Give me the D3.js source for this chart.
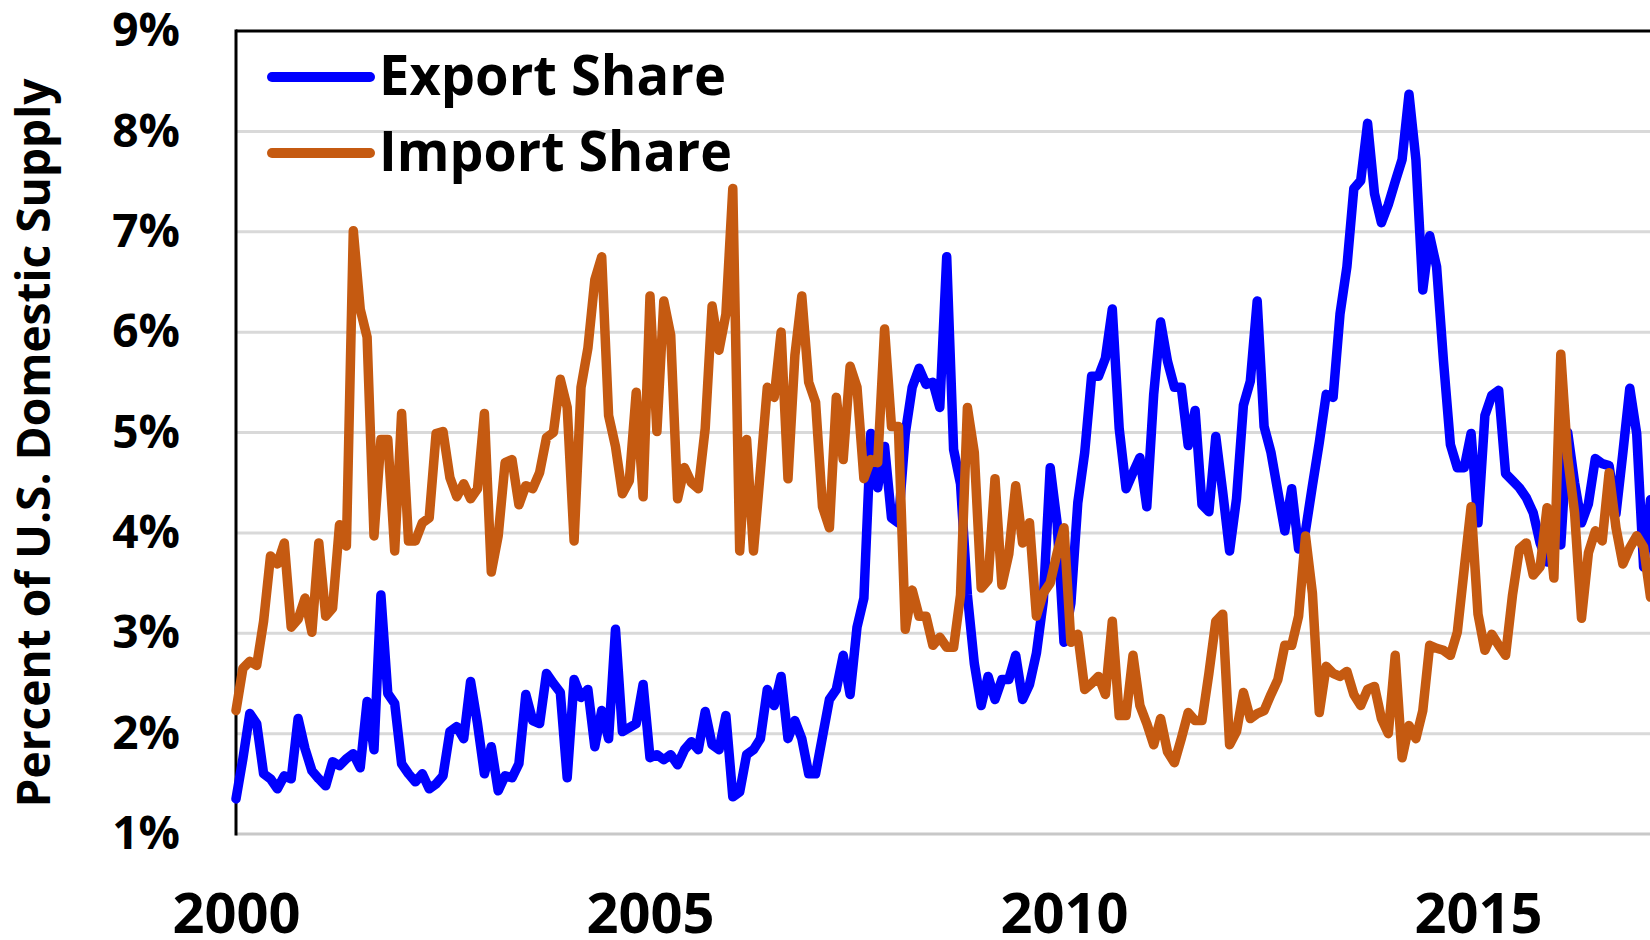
<!DOCTYPE html>
<html>
<head>
<meta charset="utf-8">
<script src="https://cdn.jsdelivr.net/npm/d3@7"></script>
<style>
  body { margin: 0; background: #fff; }
  svg { display: block; }
</style>
</head>
<body>
<div id="chart"></div>
<script>
// monthly shares, Jan 2000 onwards (percent of U.S. domestic supply)
const startYear = 2000;
const exportShare = [
  1.35, 1.75, 2.2, 2.1, 1.6, 1.55, 1.45, 1.58, 1.55, 2.15,
  1.85, 1.63, 1.55, 1.48, 1.72, 1.68, 1.75, 1.8, 1.66, 2.32,
  1.84, 3.38, 2.4, 2.3, 1.7, 1.6, 1.52, 1.6, 1.45, 1.5,
  1.58, 2.02, 2.07, 1.95, 2.52, 2.1, 1.6, 1.87, 1.43, 1.58,
  1.56, 1.7, 2.39, 2.13, 2.1, 2.6, 2.5, 2.41, 1.56, 2.54,
  2.36, 2.44, 1.87, 2.23, 1.95, 3.04, 2.02, 2.06, 2.1, 2.49,
  1.76, 1.79, 1.74, 1.79, 1.69, 1.84, 1.92, 1.84, 2.22, 1.89,
  1.84, 2.18, 1.37, 1.42, 1.79, 1.84, 1.95, 2.44, 2.28, 2.57,
  1.95, 2.13, 1.95, 1.6, 1.6, 1.97, 2.34, 2.44, 2.78, 2.39,
  3.06, 3.35, 4.99, 4.45, 4.86, 4.15, 4.1, 4.99, 5.45, 5.64,
  5.48, 5.5, 5.25, 6.75, 4.83, 4.49, 3.38, 2.7, 2.28, 2.57,
  2.34, 2.54, 2.54, 2.78, 2.34, 2.49, 2.8, 3.32, 4.65, 4.1,
  2.91, 3.3, 4.3, 4.8, 5.56, 5.56, 5.74, 6.23, 5.04, 4.44,
  4.6, 4.75, 4.26, 5.38, 6.1, 5.71, 5.45, 5.45, 4.87, 5.22,
  4.28, 4.21, 4.96, 4.41, 3.82, 4.34, 5.27, 5.51, 6.31, 5.06,
  4.8, 4.41, 4.02, 4.44, 3.84, 4.02, 4.47, 4.9, 5.38, 5.35,
  6.18, 6.65, 7.43, 7.51, 8.08, 7.38, 7.09, 7.27, 7.5, 7.72,
  8.37, 7.72, 6.42, 6.96, 6.65, 5.71, 4.88, 4.65, 4.65, 4.99,
  4.1, 5.17, 5.37, 5.42, 4.59, 4.52, 4.45, 4.35, 4.2, 3.9,
  3.71, 3.95, 3.88, 5.0, 4.5, 4.1, 4.29, 4.74, 4.69, 4.67,
  4.19, 4.8, 5.44, 4.99, 3.66, 4.33
];
const importShare = [
  2.23, 2.65, 2.72, 2.68, 3.12, 3.77, 3.69, 3.9, 3.06, 3.14,
  3.35, 3.01, 3.9, 3.17, 3.25, 4.08, 3.87, 7.01, 6.23, 5.95,
  3.97, 4.93, 4.93, 3.82, 5.19, 3.92, 3.92, 4.1, 4.15, 4.99,
  5.01, 4.55, 4.36, 4.49, 4.34, 4.44, 5.19, 3.61, 3.97, 4.7,
  4.73, 4.28, 4.47, 4.44, 4.6, 4.95, 5.0, 5.53, 5.25, 3.92,
  5.45, 5.84, 6.52, 6.75, 5.17, 4.86, 4.39, 4.52, 5.4, 4.36,
  6.36, 5.01, 6.31, 5.97, 4.34, 4.65, 4.5, 4.44, 5.04, 6.26,
  5.82, 6.18, 7.43, 3.82, 4.93, 3.82, 4.62, 5.45, 5.35, 6.0,
  4.54, 5.77, 6.36, 5.5, 5.3, 4.26, 4.05, 5.35, 4.73, 5.66,
  5.45, 4.54, 4.73, 4.7, 6.03, 5.06, 5.06, 3.04, 3.43, 3.17,
  3.17, 2.88, 2.96, 2.86, 2.86, 3.38, 5.25, 4.8, 3.45, 3.53,
  4.54, 3.48, 3.79, 4.47, 3.9, 4.1, 3.17, 3.4, 3.5, 3.8,
  4.05, 2.91, 2.99, 2.44, 2.5, 2.57, 2.39, 3.12, 2.18, 2.18,
  2.78, 2.28, 2.1, 1.89, 2.15, 1.82, 1.71, 1.95, 2.21, 2.13,
  2.13, 2.6, 3.12, 3.19, 1.89, 2.02, 2.41, 2.15, 2.2, 2.23,
  2.39, 2.54, 2.88, 2.88, 3.17, 3.97, 3.4, 2.21, 2.67, 2.6,
  2.57, 2.62, 2.39, 2.28, 2.44, 2.47, 2.15, 2.0, 2.78, 1.76,
  2.08, 1.95, 2.23, 2.88, 2.85, 2.83, 2.78, 3.01, 3.64, 4.26,
  3.19, 2.83, 2.99, 2.88, 2.78, 3.38, 3.84, 3.9, 3.58, 3.66,
  4.25, 3.55, 5.78, 4.75, 4.2, 3.15, 3.8, 4.02, 3.92, 4.6,
  4.05, 3.69, 3.85, 3.97, 3.86, 3.36
];
const yearTicks = [2000, 2005, 2010, 2015];
const pctTicks = [1, 2, 3, 4, 5, 6, 7, 8, 9];
const seriesNames = ["Export Share", "Import Share"];

const width = 1650;
const height = 940;
const margin = { top: 31, left: 236, bottom: 106 };
const plotBottom = height - margin.bottom;
const font = "'Open Sans', 'DejaVu Sans', sans-serif";
const colors = ["#0000ff", "#c55a11"];

const svg = d3.select("#chart").append("svg")
    .attr("width", width)
    .attr("height", height)
    .style("background", "#fff");

// month index -> px (the plot runs past the right edge of the picture)
const x = d3.scaleLinear()
    .domain([0, (2015 - startYear) * 12])
    .range([margin.left, 1478]);

const y = d3.scaleLinear()
    .domain([1, 9])
    .range([plotBottom, margin.top]);

// gridlines
svg.append("g")
    .selectAll("line")
    .data(pctTicks.filter(d => d > 1 && d < 9))
    .enter().append("line")
    .attr("x1", margin.left)
    .attr("x2", width)
    .attr("y1", d => y(d))
    .attr("y2", d => y(d))
    .attr("stroke", "#d9d9d9")
    .attr("stroke-width", 3);

// bottom line (gray), top + left border (black)
svg.append("line")
    .attr("x1", margin.left).attr("x2", width)
    .attr("y1", y(1)).attr("y2", y(1))
    .attr("stroke", "#c8c8c8").attr("stroke-width", 3);
svg.append("line")
    .attr("x1", margin.left).attr("x2", width)
    .attr("y1", y(9)).attr("y2", y(9))
    .attr("stroke", "#000").attr("stroke-width", 3);
svg.append("line")
    .attr("x1", margin.left).attr("x2", margin.left)
    .attr("y1", y(9) - 1.5).attr("y2", y(1) + 1.5)
    .attr("stroke", "#000").attr("stroke-width", 3);

// y axis labels
const yAxis = svg.append("g")
    .attr("transform", `translate(${margin.left},0)`)
    .call(d3.axisLeft(y).tickValues(pctTicks).tickFormat(d => d + "%").tickSize(0).tickPadding(56));
yAxis.select(".domain").remove();
yAxis.selectAll("text")
    .attr("font-family", font)
    .attr("font-weight", "bold")
    .attr("font-size", 46)
    .attr("fill", "#000");

// x axis labels
const xAxis = svg.append("g")
    .attr("transform", `translate(0,${plotBottom})`)
    .call(d3.axisBottom(x)
        .tickValues(yearTicks.map(yr => (yr - startYear) * 12))
        .tickFormat((d, i) => yearTicks[i])
        .tickSize(0)
        .tickPadding(59));
xAxis.select(".domain").remove();
xAxis.selectAll("text")
    .attr("font-family", font)
    .attr("font-weight", "bold")
    .attr("font-size", 56)
    .attr("fill", "#000");

// y axis title
svg.append("text")
    .attr("transform", "translate(50,443) rotate(-90)")
    .attr("text-anchor", "middle")
    .attr("font-family", font)
    .attr("font-weight", "bold")
    .attr("font-size", 46)
    .attr("textLength", 729)
    .attr("lengthAdjust", "spacingAndGlyphs")
    .text("Percent of U.S. Domestic Supply");

// lines
const line = d3.line()
    .x((d, i) => x(i))
    .y(d => y(d));

[exportShare, importShare].forEach((vals, k) => {
    svg.append("path")
        .datum(vals)
        .attr("fill", "none")
        .attr("stroke", colors[k])
        .attr("stroke-width", 9.5)
        .attr("stroke-linejoin", "round")
        .attr("stroke-linecap", "round")
        .attr("d", line);
});

// legend
const legend = svg.append("g");
const legendY = [77, 153];
const legendLen = [347, 353];
seriesNames.forEach((name, k) => {
    legend.append("line")
        .attr("x1", 272).attr("x2", 370)
        .attr("y1", legendY[k]).attr("y2", legendY[k])
        .attr("stroke", colors[k])
        .attr("stroke-width", 10)
        .attr("stroke-linecap", "round");
    legend.append("text")
        .attr("x", 379)
        .attr("y", legendY[k] + 18)
        .attr("font-family", font)
        .attr("font-weight", "bold")
        .attr("font-size", 56)
        .attr("textLength", legendLen[k])
        .attr("lengthAdjust", "spacingAndGlyphs")
        .text(name);
});
</script>
</body>
</html>
